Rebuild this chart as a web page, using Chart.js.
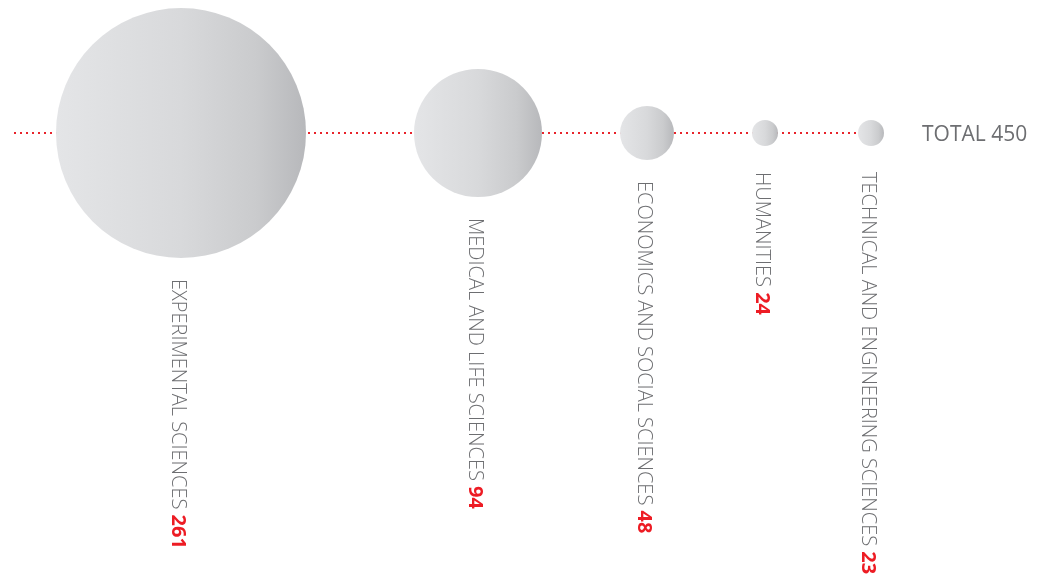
<!DOCTYPE html>
<html>
<head>
<meta charset="utf-8">
<script src="https://cdn.jsdelivr.net/npm/chart.js@4"></script>
<style>
  html, body { margin: 0; padding: 0; background: #fff; }
  #chartBurbujas { display: block; }
</style>
</head>
<body>
<canvas id="chartBurbujas" width="1045" height="584"></canvas>
<script>
const lienzo = document.getElementById('chartBurbujas');

// Datos
const areas = [
    'EXPERIMENTAL SCIENCES',
    'MEDICAL AND LIFE SCIENCES',
    'ECONOMICS AND SOCIAL SCIENCES',
    'HUMANITIES',
    'TECHNICAL AND ENGINEERING SCIENCES'
];
const cantidades = [261, 94, 48, 24, 23];
const etiquetaTotal = 'TOTAL';

// Estilo: radio de cada burbuja y espacio entre burbujas (px)
const radios = [125, 64, 27, 13, 13];
const huecos = [108, 78, 78, 80];
const inicioX = 56;      // borde izquierdo de la primera burbuja
const lineaY = 133;      // altura de la línea punteada

// Posición horizontal de cada burbuja, en cadena según radios y huecos
const centros = [];
let borde = inicioX;
radios.forEach((r, i) => {
    centros.push(borde + r);
    borde += 2 * r + (huecos[i] || 0);
});

const total = cantidades.reduce((a, b) => a + b, 0);

// Degradado gris de izquierda a derecha para cada burbuja
function degradado(ctx) {
    const chart = ctx.chart;
    if (!chart.chartArea || !ctx.raw) return '#d6d7d9';
    const x = chart.scales.x.getPixelForValue(ctx.raw.x);
    const r = ctx.raw.r;
    const g = chart.ctx.createLinearGradient(x - r, 0, x + r, 0);
    g.addColorStop(0, '#e4e5e7');
    g.addColorStop(0.5, '#d8d9db');
    g.addColorStop(0.8, '#cacbcd');
    g.addColorStop(1, '#b7b8bb');
    return g;
}

// Línea punteada roja detrás de las burbujas
const lineaPunteada = {
    id: 'lineaPunteada',
    beforeDatasetsDraw(chart) {
        const c = chart.ctx;
        const y = chart.scales.y.getPixelForValue(0);
        const ultimo = chart.getDatasetMeta(0).data[cantidades.length - 1];
        c.save();
        c.strokeStyle = '#e8232b';
        c.lineWidth = 2;
        c.setLineDash([2, 4]);
        c.beginPath();
        c.moveTo(14, y);
        c.lineTo(ultimo.x, y);
        c.stroke();
        c.restore();
    }
};

// Etiquetas verticales y total
const etiquetas = {
    id: 'etiquetas',
    afterDatasetsDraw(chart) {
        const c = chart.ctx;
        const meta = chart.getDatasetMeta(0);
        const fuente = '300 20px "Open Sans", "Noto Sans", sans-serif';
        const fuenteNum = 'bold 20px "Open Sans", "Noto Sans", sans-serif';
        meta.data.forEach((el, i) => {
            const r = el.options.radius;
            const top = Math.max(el.y + r + 21, 172);
            c.save();
            c.translate(el.x - 9, top);
            c.rotate(Math.PI / 2);
            c.textBaseline = 'alphabetic';
            c.textAlign = 'left';
            c.font = fuente;
            c.fillStyle = '#6d6e71';
            const texto = areas[i] + ' ';
            c.fillText(texto, 0, 0);
            const w = c.measureText(texto).width;
            c.font = fuenteNum;
            c.fillStyle = '#ed1c24';
            c.fillText(String(cantidades[i]), w, 0);
            c.restore();
        });
        c.save();
        c.font = '21px "Open Sans", "Noto Sans", sans-serif';
        c.fillStyle = '#6d6e71';
        c.textBaseline = 'alphabetic';
        c.fillText(etiquetaTotal + ' ' + total, 922, 141);
        c.restore();
    }
};

const datos = {
    datasets: [{
        data: cantidades.map((v, i) => ({ x: centros[i], y: 0, r: radios[i], v: v })),
        backgroundColor: degradado,
        borderWidth: 0,
        hoverBorderWidth: 0,
        clip: false
    }]
};

const chartBurbujas = new Chart(lienzo, {
    type: 'bubble',
    data: datos,
    options: {
        responsive: false,
        animation: false,
        layout: { padding: 0, autoPadding: false },
        scales: {
            x: { type: 'linear', min: 0, max: 1045, display: false },
            y: { type: 'linear', min: lineaY - 584, max: lineaY, display: false }
        },
        plugins: {
            legend: { display: false },
            tooltip: { enabled: false }
        }
    },
    plugins: [lineaPunteada, etiquetas]
});
</script>
</body>
</html>
